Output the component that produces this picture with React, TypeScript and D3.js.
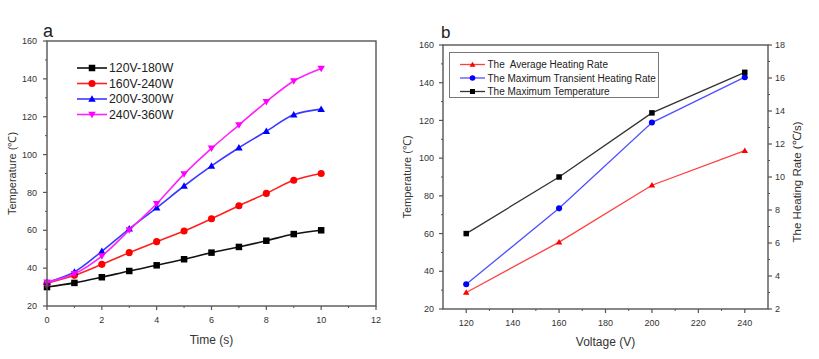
import React from "react";
import * as d3 from "d3";

const timeS = [0, 1, 2, 3, 4, 5, 6, 7, 8, 9, 10];
const seriesNames = ["120V-180W", "160V-240W", "200V-300W", "240V-360W"];
const temp120 = [30, 32.2, 35.2, 38.5, 41.5, 44.7, 48.2, 51.2, 54.5, 58, 60];
const temp160 = [32, 36.2, 42, 48.2, 54, 59.6, 66.1, 73, 79.5, 86.4, 90];
const temp200 = [32.5, 38, 48.9, 60.8, 71.9, 83.4, 94, 103.6, 112.3, 121, 124];
const temp240 = [32.5, 37, 46.4, 60.1, 74, 89.7, 103.3, 115.6, 127.9, 138.9, 145.5];

const voltages = [120, 160, 200, 240];
const avgRate = [3.0, 6.05, 9.5, 11.6];
const maxRate = [3.5, 8.1, 13.3, 16.05];
const maxTemp = [60, 90, 124, 145.5];
const legendB = ["The  Average Heating Rate", "The Maximum Transient Heating Rate", "The Maximum Temperature"];

const tickA_y = [20, 40, 60, 80, 100, 120, 140, 160];
const tickA_x = [0, 2, 4, 6, 8, 10, 12];
const tickB_x = [120, 140, 160, 180, 200, 220, 240];
const tickB_yl = [20, 40, 60, 80, 100, 120, 140, 160];
const tickB_yr = [2, 4, 6, 8, 10, 12, 14, 16, 18];

const AX = "#555";
const TXT = "#333";
const FONT = "Liberation Sans, Arial, sans-serif";

function Marker({ type, x, y, color, s }: { type: string; x: number; y: number; color: string; s: number }) {
  if (type === "square") return <rect x={x - s / 2} y={y - s / 2} width={s} height={s} fill={color} />;
  if (type === "circle") return <circle cx={x} cy={y} r={s / 2 + 0.3} fill={color} />;
  const h = s * 0.95;
  if (type === "up")
    return <path d={`M${x},${y - h * 0.6}L${x + s / 2 + 0.5},${y + h * 0.45}L${x - s / 2 - 0.5},${y + h * 0.45}Z`} fill={color} />;
  return <path d={`M${x},${y + h * 0.6}L${x + s / 2 + 0.5},${y - h * 0.45}L${x - s / 2 - 0.5},${y - h * 0.45}Z`} fill={color} />;
}

function ChartA() {
  const L = 47, R = 376, T = 41, B = 306;
  const x = d3.scaleLinear().domain([0, 12]).range([L, R]);
  const y = d3.scaleLinear().domain([20, 160]).range([B, T]);
  const series = [
    { name: seriesNames[0], vals: temp120, color: "#000000", line: "#111", m: "square" },
    { name: seriesNames[1], vals: temp160, color: "#ff0000", line: "#ff2020", m: "circle" },
    { name: seriesNames[2], vals: temp200, color: "#0000ff", line: "#3a3aff", m: "up" },
    { name: seriesNames[3], vals: temp240, color: "#ff00ff", line: "#ff20ff", m: "down" },
  ];
  const line = d3
    .line<number>()
    .x((_, i) => x(timeS[i]))
    .y((d) => y(d))
    .curve(d3.curveCatmullRom.alpha(0.5));
  const minorY = d3.range(30, 160, 20);
  const minorX = d3.range(1, 12, 2);
  return (
    <g fontFamily={FONT}>
      <text x={43} y={37} fontSize={18} fill="#222">a</text>
      {series.map((s) => (
        <g key={s.name}>
          <path d={line(s.vals) || ""} fill="none" stroke={s.line} strokeWidth={1.6} />
          {s.vals.map((v, i) => (
            <Marker key={i} type={s.m} x={x(timeS[i])} y={y(v)} color={s.color} s={s.m === "circle" ? 6.5 : 6.5} />
          ))}
        </g>
      ))}
      <rect x={L} y={T} width={R - L} height={B - T} fill="none" stroke={AX} strokeWidth={1.4} />
      {tickA_y.map((t) => (
        <g key={"y" + t}>
          <line x1={L - 4} x2={L} y1={y(t)} y2={y(t)} stroke={AX} strokeWidth={1.2} />
          <text x={L - 10} y={y(t) + 3.2} fontSize={9} textAnchor="end" fill={TXT}>{t}</text>
        </g>
      ))}
      {minorY.map((t) => (
        <line key={"my" + t} x1={L - 2} x2={L} y1={y(t)} y2={y(t)} stroke={AX} strokeWidth={1} />
      ))}
      {tickA_x.map((t) => (
        <g key={"x" + t}>
          <line x1={x(t)} x2={x(t)} y1={B} y2={B + 4} stroke={AX} strokeWidth={1.2} />
          <text x={x(t)} y={B + 17} fontSize={9} textAnchor="middle" fill={TXT}>{t}</text>
        </g>
      ))}
      {minorX.map((t) => (
        <line key={"mx" + t} x1={x(t)} x2={x(t)} y1={B} y2={B + 2} stroke={AX} strokeWidth={1} />
      ))}
      <text x={(L + R) / 2} y={344} fontSize={12} textAnchor="middle" fill={TXT}>Time (s)</text>
      <text transform={`translate(16,${(T + B) / 2}) rotate(-90)`} fontSize={11} textAnchor="middle" fill={TXT}>Temperature (℃)</text>
      {series.map((s, i) => {
        const ly = 68 + i * 15.5;
        return (
          <g key={"lg" + s.name}>
            <line x1={77} x2={107} y1={ly} y2={ly} stroke={s.line} strokeWidth={1.6} />
            <Marker type={s.m} x={92} y={ly} color={s.color} s={6.5} />
            <text x={109} y={ly + 4.3} fontSize={12.3} fill="#222">{s.name}</text>
          </g>
        );
      })}
    </g>
  );
}

function ChartB() {
  const L = 443, R = 768, T = 45, B = 309;
  const x = d3.scaleLinear().domain([110, 250]).range([L, R]);
  const yl = d3.scaleLinear().domain([20, 160]).range([B, T]);
  const yr = d3.scaleLinear().domain([2, 18]).range([B, T]);
  const series = [
    { name: legendB[0], vals: avgRate, sc: yr, color: "#ff0000", line: "#ff4040", m: "up" },
    { name: legendB[1], vals: maxRate, sc: yr, color: "#0000ff", line: "#5050ff", m: "circle" },
    { name: legendB[2], vals: maxTemp, sc: yl, color: "#000000", line: "#333", m: "square" },
  ];
  const minorX = d3.range(130, 250, 20);
  const minorYL = d3.range(30, 160, 20);
  const minorYR = d3.range(3, 18, 2);
  return (
    <g fontFamily={FONT}>
      <text x={441} y={38} fontSize={17} fill="#222">b</text>
      {series.map((s) => {
        const ln = d3
          .line<number>()
          .x((_, i) => x(voltages[i]))
          .y((d) => s.sc(d));
        return (
          <g key={s.name}>
            <path d={ln(s.vals) || ""} fill="none" stroke={s.line} strokeWidth={1.3} />
            {s.vals.map((v, i) => (
              <Marker key={i} type={s.m} x={x(voltages[i])} y={s.sc(v)} color={s.color} s={5.5} />
            ))}
          </g>
        );
      })}
      <rect x={L} y={T} width={R - L} height={B - T} fill="none" stroke={AX} strokeWidth={1.4} />
      {tickB_yl.map((t) => (
        <g key={"yl" + t}>
          <line x1={L - 4} x2={L} y1={yl(t)} y2={yl(t)} stroke={AX} strokeWidth={1.2} />
          <text x={L - 9} y={yl(t) + 3.2} fontSize={9} textAnchor="end" fill={TXT}>{t}</text>
        </g>
      ))}
      {minorYL.map((t) => (
        <line key={"myl" + t} x1={L - 2} x2={L} y1={yl(t)} y2={yl(t)} stroke={AX} strokeWidth={1} />
      ))}
      {tickB_yr.map((t) => (
        <g key={"yr" + t}>
          <line x1={R} x2={R + 4} y1={yr(t)} y2={yr(t)} stroke={AX} strokeWidth={1.2} />
          <text x={R + 7} y={yr(t) + 3.2} fontSize={9} textAnchor="start" fill={TXT}>{t}</text>
        </g>
      ))}
      {minorYR.map((t) => (
        <line key={"myr" + t} x1={R} x2={R + 2} y1={yr(t)} y2={yr(t)} stroke={AX} strokeWidth={1} />
      ))}
      {tickB_x.map((t) => (
        <g key={"x" + t}>
          <line x1={x(t)} x2={x(t)} y1={B} y2={B + 4} stroke={AX} strokeWidth={1.2} />
          <text x={x(t)} y={B + 17} fontSize={9} textAnchor="middle" fill={TXT}>{t}</text>
        </g>
      ))}
      {minorX.map((t) => (
        <line key={"mx" + t} x1={x(t)} x2={x(t)} y1={B} y2={B + 2} stroke={AX} strokeWidth={1} />
      ))}
      <text x={(L + R) / 2} y={346} fontSize={12} textAnchor="middle" fill={TXT}>Voltage (V)</text>
      <text transform={`translate(411,${(T + B) / 2}) rotate(-90)`} fontSize={11} textAnchor="middle" fill={TXT}>Temperature (℃)</text>
      <text transform={`translate(801,${(T + B) / 2 + 5}) rotate(-90)`} fontSize={11.5} textAnchor="middle" fill={TXT}>The Heating Rate (℃/s)</text>
      <rect x={449.5} y={52.5} width={209} height={45} fill="#fff" stroke="#777" strokeWidth={1} />
      {series.map((s, i) => {
        const ly = 64.5 + i * 13.5;
        return (
          <g key={"lg" + s.name}>
            <line x1={460} x2={485} y1={ly} y2={ly} stroke={s.line} strokeWidth={1.3} />
            <Marker type={s.m} x={472.5} y={ly} color={s.color} s={5} />
            <text x={487.5} y={ly + 3.6} fontSize={10} fill="#222" style={{ whiteSpace: "pre" }}>{s.name}</text>
          </g>
        );
      })}
    </g>
  );
}

export default function App() {
  return (
    <svg width={819} height={359} style={{ position: "absolute", left: 0, top: 0, background: "#fff" }}>
      <rect width={819} height={359} fill="#fff" />
      <ChartA />
      <ChartB />
    </svg>
  );
}
